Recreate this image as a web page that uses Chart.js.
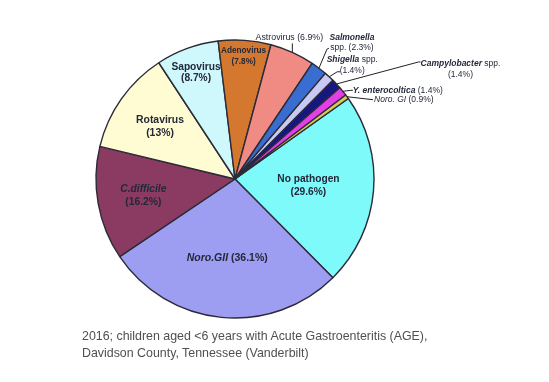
<!DOCTYPE html>
<html>
<head>
<meta charset="utf-8">
<script src="https://cdn.jsdelivr.net/npm/chart.js@4/dist/chart.umd.min.js"></script>
<style>
  html, body { margin: 0; padding: 0; background: #ffffff; }
  #wrap { position: relative; width: 549px; height: 382px; overflow: hidden; }
  #c { position: absolute; left: 0; top: 0; }
  #caption { position: absolute; left: 82px; top: 328px; font-family: "Liberation Sans", Arial, sans-serif; font-size: 12.4px; line-height: 16.5px; color: #505050; white-space: nowrap; }
</style>
</head>
<body>
<div id="wrap">
  <canvas id="c" width="549" height="382"></canvas>
  <div id="caption">2016; children aged &lt;6 years with Acute Gastroenteritis (AGE),<br>Davidson County, Tennessee (Vanderbilt)</div>
</div>
<script>
// Categories, clockwise from "No pathogen"
const categories = ['No pathogen', 'Noro.GII', 'C.difficile', 'Rotavirus', 'Sapovirus', 'Adenovirus', 'Astrovirus', 'Salmonella', 'Shigella', 'Campylobacter', 'Y. enterocoltica', 'Noro. GI'];
// Printed percentages (as labelled on the chart)
const printedPercent = ['29.6%', '36.1%', '16.2%', '13%', '8.7%', '7.8%', '6.9%', '2.3%', '1.4%', '1.4%', '1.4%', '0.9%'];
// Share of the pie each slice occupies as drawn (percent of circle)
const sliceShare = [22.4, 28.0, 13.2, 12.0, 7.3, 6.1, 5.2, 1.9, 1.17, 1.17, 1.06, 0.5];
const sliceColors = ['#7ffafb', '#9d9df1', '#8b3b61', '#fffbd3', '#cef8fb', '#d4782f', '#f08b84', '#3a6dd0', '#c9c9f3', '#17177f', '#e23fe6', '#d9c957'];

const FONT = '"Liberation Sans", Arial, Helvetica, sans-serif';

// label styling / placement (not data)
const labelLayout = [
  {type: 'in', r: 0.53, size: 10.2, lh: 13, lines: [[['No pathogen', 'bold']], [['(' + printedPercent[0] + ')', 'bold']]]},
  {type: 'in', r: 0.57, size: 10.5, lh: 13, lines: [[['Noro.GII', 'italic bold'], [' (' + printedPercent[1] + ')', 'bold']]]},
  {type: 'in', r: 0.67, size: 10.3, lh: 13, lines: [[['C.difficile', 'italic bold']], [['(' + printedPercent[2] + ')', 'bold']]]},
  {type: 'in', r: 0.66, size: 10.4, lh: 13, lines: [[['Rotavirus', 'bold']], [['(' + printedPercent[3] + ')', 'bold']]]},
  {type: 'in', r: 0.815, size: 10.2, lh: 11.5, lines: [[['Sapovirus', 'bold']], [['(' + printedPercent[4] + ')', 'bold']]]},
  {type: 'in', r: 0.885, size: 8.2, lh: 10.5, lines: [[['Adenovirus', 'bold']], [['(' + printedPercent[5] + ')', 'bold']]]},
  {type: 'out', size: 8.8, lh: 11, line: [[0, -9]], text: [-3, -15], align: 'center',
     lines: [[['Astrovirus (' + printedPercent[6] + ')', 'normal']]]},
  {type: 'out', size: 8.5, lh: 10.5, line: [[8, -19], [10, -20]], text: [33, -31], align: 'center',
     lines: [[['Salmonella', 'italic bold']], [['spp. (' + printedPercent[7] + ')', 'normal']]]},
  {type: 'out', size: 8.5, lh: 10.5, line: [[8, -5], [11, -5]], text: [23, -17], align: 'center',
     lines: [[['Shigella', 'italic bold'], [' spp.', 'normal']], [['(' + printedPercent[8] + ')', 'normal']]]},
  {type: 'out', size: 8.5, lh: 10.5, line: [[82, -22], [84, -22]], text: [124, -20], align: 'center',
     lines: [[['Campylobacter', 'italic bold'], [' spp.', 'normal']], [['(' + printedPercent[9] + ')', 'normal']]]},
  {type: 'out', size: 8.5, lh: 10.5, line: [[8, -1], [10, -1]], text: [10, -1], align: 'left',
     lines: [[['Y. enterocoltica', 'italic bold'], [' (' + printedPercent[10] + ')', 'normal']]]},
  {type: 'out', size: 8.5, lh: 10.5, line: [[26, 3]], text: [27, 3], align: 'left',
     lines: [[['Noro. GI', 'italic'], [' (' + printedPercent[11] + ')', 'normal']]]}
];

function segWidth(ctx, segs, size) {
  let w = 0;
  for (const [t, st] of segs) { ctx.font = st + ' ' + size + 'px ' + FONT; w += ctx.measureText(t).width; }
  return w;
}
function drawSegs(ctx, segs, size, x, y, align) {
  const w = segWidth(ctx, segs, size);
  let cx = align === 'center' ? x - w / 2 : x;
  for (const [t, st] of segs) {
    ctx.font = st + ' ' + size + 'px ' + FONT;
    ctx.fillText(t, cx, y);
    cx += ctx.measureText(t).width;
  }
}

const labelPlugin = {
  id: 'sliceLabels',
  afterDatasetsDraw(chart) {
    const ctx = chart.ctx;
    const meta = chart.getDatasetMeta(0);
    ctx.save();
    ctx.textBaseline = 'middle';
    ctx.fillStyle = '#23283a';
    ctx.strokeStyle = '#222';
    ctx.lineWidth = 1;
    meta.data.forEach((arc, i) => {
      const L = labelLayout[i];
      const p = arc.getProps(['x', 'y', 'startAngle', 'endAngle', 'outerRadius'], true);
      const mid = (p.startAngle + p.endAngle) / 2;
      const n = L.lines.length;
      if (L.type === 'in') {
        const cx = p.x + Math.cos(mid) * p.outerRadius * L.r;
        const cy = p.y + Math.sin(mid) * p.outerRadius * L.r;
        L.lines.forEach((segs, k) => {
          drawSegs(ctx, segs, L.size, cx, cy + (k - (n - 1) / 2) * L.lh, 'center');
        });
      } else {
        const ex = p.x + Math.cos(mid) * p.outerRadius;
        const ey = p.y + Math.sin(mid) * p.outerRadius;
        ctx.beginPath();
        ctx.moveTo(ex, ey);
        for (const [dx, dy] of L.line) ctx.lineTo(ex + dx, ey + dy);
        ctx.stroke();
        const tx = ex + L.text[0], ty = ey + L.text[1];
        L.lines.forEach((segs, k) => {
          drawSegs(ctx, segs, L.size, tx, ty + k * L.lh, L.align);
        });
      }
    });
    ctx.restore();
  }
};

new Chart(document.getElementById('c'), {
  type: 'pie',
  data: {
    labels: categories,
    datasets: [{
      data: sliceShare,
      backgroundColor: sliceColors,
      borderColor: '#2b2b38',
      borderWidth: 1.4,
      hoverOffset: 0,
      offset: 0
    }]
  },
  options: {
    responsive: false,
    animation: false,
    rotation: 54.6,
    radius: 139,
    layout: { padding: { left: 20, right: 99, top: 10, bottom: 34 } },
    plugins: { legend: { display: false }, tooltip: { enabled: false }, title: { display: false } }
  },
  plugins: [labelPlugin]
});
</script>
</body>
</html>
